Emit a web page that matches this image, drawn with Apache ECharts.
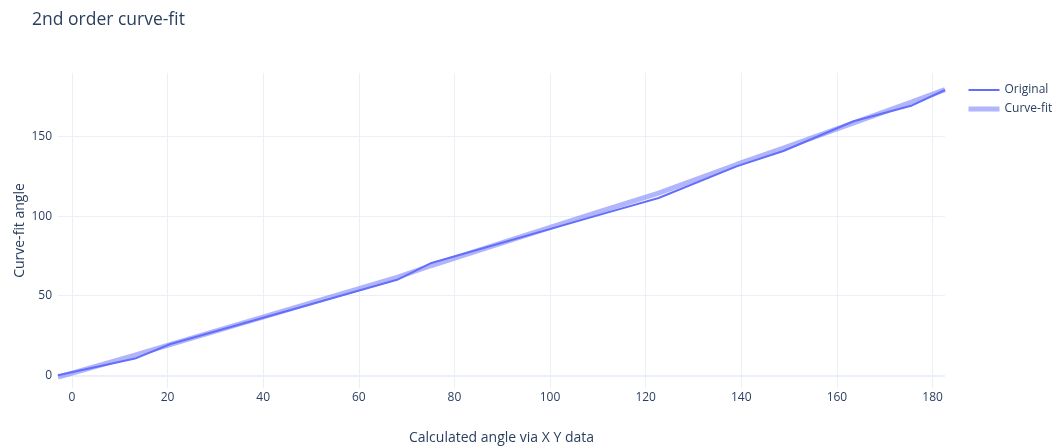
<!DOCTYPE html>
<html>
<head>
<meta charset="utf-8">
<title>2nd order curve-fit</title>
<script src="https://cdn.jsdelivr.net/npm/echarts@6/dist/echarts.min.js"></script>
<style>
  html, body { margin: 0; padding: 0; background: #ffffff; }
  #chart { width: 1056px; height: 448px; }
</style>
</head>
<body>
<div id="chart"></div>
<script>
// Calculated angle (x) for each sample
const calcAngle = [-2.9, 13.2, 20.5, 68, 75.2, 110.5, 122.7, 139, 148.8, 163.5, 175.7, 182.6];
// Original angle at each sample
const originalAngle = [0, 10.5, 19.5, 60, 70.6, 101, 111.4, 131.3, 141, 159.7, 169.6, 179.3];
// 2nd order fitted angle at each sample
const fittedAngle = [-1.2, 12.6, 19.2, 61.5, 69, 103, 114.5, 132.5, 142.8, 158.7, 171.8, 179.6];

const seriesNames = ['Original', 'Curve-fit'];

const pairs = (xs, ys) => xs.map((x, i) => [x, ys[i]]);

const lineBlue = '#636efa';
const textColor = '#2a3f5f';
const gridColor = '#ebf0f8';
const fontFamily = '"Open Sans", "Noto Sans", sans-serif';

const chart = echarts.init(document.getElementById('chart'), null, { renderer: 'canvas' });

chart.setOption({
  animation: false,
  backgroundColor: '#ffffff',
  textStyle: { fontFamily: fontFamily },
  title: {
    text: '2nd order curve-fit',
    left: 27,
    top: 6,
    textStyle: { fontSize: 17.5, fontWeight: 'normal', color: textColor, fontFamily: fontFamily }
  },
  legend: {
    orient: 'vertical',
    left: 966,
    top: 84,
    padding: 0,
    itemWidth: 31,
    itemHeight: 12,
    itemGap: 7,
    itemStyle: { opacity: 0 },
    textStyle: { fontSize: 12, color: textColor, fontFamily: fontFamily },
    data: [
      { name: seriesNames[0], lineStyle: { color: lineBlue, width: 2, opacity: 1 } },
      { name: seriesNames[1], lineStyle: { color: lineBlue, width: 5, opacity: 0.5 } }
    ]
  },
  grid: { left: 58, right: 111, top: 73, bottom: 60, containLabel: false, outerBoundsMode: 'none' },
  xAxis: {
    type: 'value',
    min: -2.9,
    max: 182.6,
    splitNumber: 9,
    name: 'Calculated angle via X Y data',
    nameLocation: 'middle',
    nameGap: 43,
    nameMoveOverlap: false,
    nameTextStyle: { fontSize: 14, color: textColor },
    axisLine: { show: false },
    axisTick: { show: false },
    axisLabel: { color: textColor, fontSize: 12, margin: 4, showMinLabel: false, showMaxLabel: false },
    splitLine: { show: true, showMinLine: false, showMaxLine: false, lineStyle: { color: gridColor, width: 1 } }
  },
  yAxis: {
    type: 'value',
    min: -8,
    max: 190,
    splitNumber: 4,
    name: 'Curve-fit angle',
    nameLocation: 'middle',
    nameGap: 31,
    nameMoveOverlap: false,
    nameTextStyle: { fontSize: 14, color: textColor },
    axisLine: { show: false },
    axisTick: { show: false },
    axisLabel: { color: textColor, fontSize: 12, margin: 6, showMinLabel: false, showMaxLabel: false },
    splitLine: { show: true, showMinLine: false, showMaxLine: false, lineStyle: { color: gridColor, width: 1 } }
  },
  series: [
    {
      name: seriesNames[0],
      type: 'line',
      data: pairs(calcAngle, originalAngle),
      symbol: 'none',
      z: 3,
      color: lineBlue,
      lineStyle: { color: lineBlue, width: 2 },
      // heavier zero line along y = 0
      markLine: {
        silent: true,
        symbol: 'none',
        label: { show: false },
        z: 1,
        lineStyle: { color: gridColor, width: 2, type: 'solid' },
        data: [{ yAxis: 0 }]
      }
    },
    {
      name: seriesNames[1],
      type: 'line',
      data: pairs(calcAngle, fittedAngle),
      symbol: 'none',
      z: 2,
      color: lineBlue,
      lineStyle: { color: lineBlue, width: 5, opacity: 0.5 }
    }
  ]
});
</script>
</body>
</html>
